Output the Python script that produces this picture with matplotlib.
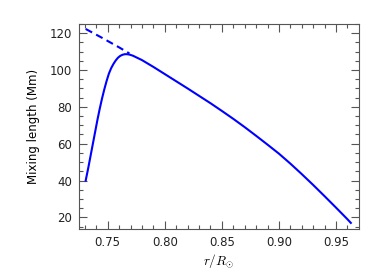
import matplotlib
matplotlib.use("Agg")
import matplotlib.pyplot as plt
from matplotlib.ticker import MultipleLocator

plt.rcParams["mathtext.fontset"] = "cm"

# Solid curve: mixing length vs radius
r_solid = [0.7307, 0.733, 0.735, 0.737, 0.739, 0.741, 0.743, 0.745, 0.747,
           0.749, 0.751, 0.753, 0.755, 0.757, 0.759, 0.761, 0.763, 0.765,
           0.767, 0.769, 0.772, 0.775, 0.78, 0.79, 0.80, 0.81, 0.82, 0.83,
           0.84, 0.85, 0.86, 0.87, 0.88, 0.89, 0.90, 0.91, 0.92, 0.93,
           0.94, 0.95, 0.96, 0.963]
l_solid = [40.0, 47.0, 53.5, 60.0, 66.5, 73.0, 79.0, 84.5, 89.5,
           94.0, 98.0, 101.0, 103.3, 105.2, 106.7, 107.7, 108.3, 108.6,
           108.6, 108.4, 107.8, 106.9, 105.4, 101.7, 97.8, 93.9, 90.0, 86.0,
           82.0, 77.8, 73.5, 69.0, 64.3, 59.5, 54.6, 49.2, 43.5, 37.6,
           31.5, 25.3, 19.0, 17.0]

# Dashed extension toward the base
r_dash = [0.7307, 0.745, 0.760, 0.769]
l_dash = [122.3, 117.5, 112.3, 109.0]

grey = "#555555"

fig = plt.figure(figsize=(3.82, 2.79), dpi=100)
ax = fig.add_axes([0.207, 0.180, 0.732, 0.734])

ax.plot(r_solid, l_solid, color="#0000ff", lw=1.5)
ax.plot(r_dash, l_dash, color="#0000ff", lw=1.5, ls=(0, (3.5, 2.2)))

ax.set_xlim(0.7249, 0.9699)
ax.set_ylim(13.8, 125)

ax.xaxis.set_major_locator(MultipleLocator(0.05))
ax.xaxis.set_minor_locator(MultipleLocator(0.01))
ax.yaxis.set_major_locator(MultipleLocator(20))
ax.yaxis.set_minor_locator(MultipleLocator(5))

ax.tick_params(which="both", direction="in", top=True, right=True,
               color=grey, labelsize=8.5, labelcolor="#222222", width=0.8)
ax.tick_params(which="major", length=6, pad=5)
ax.tick_params(which="minor", length=3)
for s in ax.spines.values():
    s.set_color(grey)
    s.set_linewidth(0.8)

ax.set_xticklabels([f"{t:.2f}" for t in ax.get_xticks()])
ax.set_xlabel(r"$r/R_{\odot}$", fontsize=9.5, labelpad=2)
ax.set_ylabel("Mixing length (Mm)", fontsize=8.5, labelpad=7)

fig.savefig("out.png", dpi=100)
